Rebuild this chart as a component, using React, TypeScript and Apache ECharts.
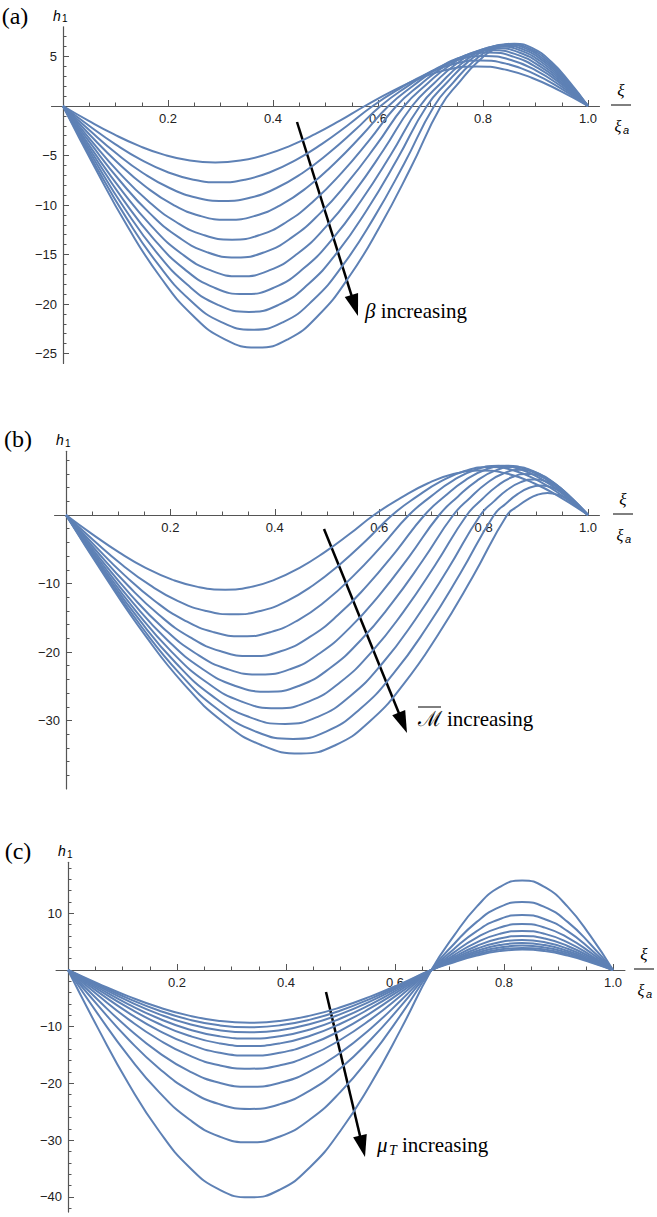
import React, { useEffect, useRef } from "react";
import * as echarts from "echarts";

const LINE = "#5E81B5";

const xTickValues = [0.2, 0.4, 0.6, 0.8, 1.0];
const yTicksA = [-25, -20, -15, -10, -5, 5];
const yTicksB = [-30, -20, -10];
const yTicksC = [-40, -30, -20, -10, 10];

// Panel (a): beta family, [xi, h1] pairs
const betaCurves = [
  [[0,0],[0.0483,-1.48],[0.0967,-2.85],[0.145,-4.03],[0.1933,-4.94],[0.2417,-5.51],[0.29,-5.7],[0.3375,-5.51],[0.385,-4.94],[0.4325,-4.03],[0.48,-2.85],[0.5275,-1.48],[0.575,0],[0.6281,1.53],[0.6813,2.83],[0.7344,3.7],[0.7875,4.0],[0.8406,3.7],[0.8938,2.83],[0.9469,1.53],[1,0]],
  [[0,0],[0.0497,-1.99],[0.0993,-3.85],[0.149,-5.45],[0.1987,-6.67],[0.2483,-7.44],[0.298,-7.7],[0.3467,-7.44],[0.3953,-6.67],[0.444,-5.45],[0.4927,-3.85],[0.5413,-1.99],[0.59,0],[0.6413,1.76],[0.6925,3.25],[0.7438,4.25],[0.795,4.6],[0.8463,4.25],[0.8975,3.25],[0.9488,1.76],[1,0]],
  [[0,0],[0.051,-2.48],[0.102,-4.8],[0.153,-6.79],[0.204,-8.31],[0.255,-9.27],[0.306,-9.6],[0.3558,-9.27],[0.4057,-8.31],[0.4555,-6.79],[0.5053,-4.8],[0.5552,-2.48],[0.605,0],[0.6544,1.93],[0.7038,3.57],[0.7531,4.67],[0.8025,5.05],[0.8519,4.67],[0.9013,3.57],[0.9506,1.93],[1,0]],
  [[0,0],[0.0523,-2.98],[0.1047,-5.75],[0.157,-8.13],[0.2093,-9.96],[0.2617,-11.11],[0.314,-11.5],[0.365,-11.11],[0.416,-9.96],[0.467,-8.13],[0.518,-5.75],[0.569,-2.98],[0.62,0],[0.6675,2.07],[0.715,3.82],[0.7625,4.99],[0.81,5.4],[0.8575,4.99],[0.905,3.82],[0.9525,2.07],[1,0]],
  [[0,0],[0.0537,-3.49],[0.1073,-6.75],[0.161,-9.55],[0.2147,-11.69],[0.2683,-13.04],[0.322,-13.5],[0.3742,-13.04],[0.4263,-11.69],[0.4785,-9.55],[0.5307,-6.75],[0.5828,-3.49],[0.635,0],[0.6806,2.16],[0.7263,4.0],[0.7719,5.22],[0.8175,5.65],[0.8631,5.22],[0.9088,4.0],[0.9544,2.16],[1,0]],
  [[0,0],[0.055,-3.96],[0.11,-7.65],[0.165,-10.82],[0.22,-13.25],[0.275,-14.78],[0.33,-15.3],[0.3833,-14.78],[0.4367,-13.25],[0.49,-10.82],[0.5433,-7.65],[0.5967,-3.96],[0.65,0],[0.6938,2.24],[0.7375,4.14],[0.7813,5.41],[0.825,5.85],[0.8688,5.41],[0.9125,4.14],[0.9563,2.24],[1,0]],
  [[0,0],[0.0563,-4.45],[0.1127,-8.6],[0.169,-12.16],[0.2253,-14.9],[0.2817,-16.61],[0.338,-17.2],[0.3925,-16.61],[0.447,-14.9],[0.5015,-12.16],[0.556,-8.6],[0.6105,-4.45],[0.665,0],[0.7069,2.3],[0.7488,4.24],[0.7906,5.54],[0.8325,6.0],[0.8744,5.54],[0.9163,4.24],[0.9581,2.3],[1,0]],
  [[0,0],[0.0577,-4.92],[0.1153,-9.5],[0.173,-13.44],[0.2307,-16.45],[0.2883,-18.35],[0.346,-19.0],[0.4017,-18.35],[0.4573,-16.45],[0.513,-13.44],[0.5687,-9.5],[0.6243,-4.92],[0.68,0],[0.72,2.33],[0.76,4.31],[0.8,5.64],[0.84,6.1],[0.88,5.64],[0.92,4.31],[0.96,2.33],[1,0]],
  [[0,0],[0.059,-5.38],[0.118,-10.4],[0.177,-14.71],[0.236,-18.01],[0.295,-20.09],[0.354,-20.8],[0.4105,-20.09],[0.467,-18.01],[0.5235,-14.71],[0.58,-10.4],[0.6365,-5.38],[0.693,0],[0.7314,2.37],[0.7698,4.38],[0.8081,5.73],[0.8465,6.2],[0.8849,5.73],[0.9233,4.38],[0.9616,2.37],[1,0]],
  [[0,0],[0.0603,-5.85],[0.1207,-11.3],[0.181,-15.98],[0.2413,-19.57],[0.3017,-21.83],[0.362,-22.6],[0.4195,-21.83],[0.477,-19.57],[0.5345,-15.98],[0.592,-11.3],[0.6495,-5.85],[0.707,0],[0.7436,2.39],[0.7803,4.42],[0.8169,5.77],[0.8535,6.25],[0.8901,5.77],[0.9268,4.42],[0.9634,2.39],[1,0]],
  [[0,0],[0.0617,-6.32],[0.1233,-12.2],[0.185,-17.25],[0.2467,-21.13],[0.3083,-23.57],[0.37,-24.4],[0.4283,-23.57],[0.4867,-21.13],[0.545,-17.25],[0.6033,-12.2],[0.6617,-6.32],[0.72,0],[0.755,2.41],[0.79,4.46],[0.825,5.82],[0.86,6.3],[0.895,5.82],[0.93,4.46],[0.965,2.41],[1,0]],
];

// Panel (b): M-bar family, [xi, h1] pairs
const machCurves = [
  [[0,0],[0.0508,-2.82],[0.1017,-5.45],[0.1525,-7.71],[0.2033,-9.44],[0.2542,-10.53],[0.305,-10.9],[0.3525,-10.53],[0.4,-9.44],[0.4475,-7.71],[0.495,-5.45],[0.5425,-2.82],[0.59,0],[0.6413,2.49],[0.6925,4.6],[0.7438,6.01],[0.795,6.5],[0.8463,6.01],[0.8975,4.6],[0.9488,2.49],[1,0]],
  [[0,0],[0.0537,-3.75],[0.1073,-7.25],[0.161,-10.25],[0.2147,-12.56],[0.2683,-14.01],[0.322,-14.5],[0.3725,-14.01],[0.423,-12.56],[0.4735,-10.25],[0.524,-7.25],[0.5745,-3.75],[0.625,0],[0.6719,2.68],[0.7188,4.95],[0.7656,6.47],[0.8125,7.0],[0.8594,6.47],[0.9063,4.95],[0.9531,2.68],[1,0]],
  [[0,0],[0.0565,-4.58],[0.113,-8.85],[0.1695,-12.52],[0.226,-15.33],[0.2825,-17.1],[0.339,-17.7],[0.392,-17.1],[0.445,-15.33],[0.498,-12.52],[0.551,-8.85],[0.604,-4.58],[0.657,0],[0.6999,2.76],[0.7428,5.09],[0.7856,6.65],[0.8285,7.2],[0.8714,6.65],[0.9143,5.09],[0.9571,2.76],[1,0]],
  [[0,0],[0.0593,-5.33],[0.1187,-10.3],[0.178,-14.57],[0.2373,-17.84],[0.2967,-19.9],[0.356,-20.6],[0.4112,-19.9],[0.4663,-17.84],[0.5215,-14.57],[0.5767,-10.3],[0.6318,-5.33],[0.687,0],[0.7261,2.76],[0.7653,5.09],[0.8044,6.65],[0.8435,7.2],[0.8826,6.65],[0.9218,5.09],[0.9609,2.76],[1,0]],
  [[0,0],[0.062,-6.03],[0.124,-11.65],[0.186,-16.48],[0.248,-20.18],[0.31,-22.51],[0.372,-23.3],[0.4292,-22.51],[0.4863,-20.18],[0.5435,-16.48],[0.6007,-11.65],[0.6578,-6.03],[0.715,0],[0.7506,2.68],[0.7863,4.95],[0.8219,6.47],[0.8575,7.0],[0.8931,6.47],[0.9288,4.95],[0.9644,2.68],[1,0]],
  [[0,0],[0.0647,-6.68],[0.1293,-12.9],[0.194,-18.24],[0.2587,-22.34],[0.3233,-24.92],[0.388,-25.8],[0.447,-24.92],[0.506,-22.34],[0.565,-18.24],[0.624,-12.9],[0.683,-6.68],[0.742,0],[0.7743,2.53],[0.8065,4.67],[0.8388,6.1],[0.871,6.6],[0.9033,6.1],[0.9355,4.67],[0.9678,2.53],[1,0]],
  [[0,0],[0.0673,-7.3],[0.1347,-14.1],[0.202,-19.94],[0.2693,-24.42],[0.3367,-27.24],[0.404,-28.2],[0.4647,-27.24],[0.5253,-24.42],[0.586,-19.94],[0.6467,-14.1],[0.7073,-7.3],[0.768,0],[0.797,2.3],[0.826,4.24],[0.855,5.54],[0.884,6.0],[0.913,5.54],[0.942,4.24],[0.971,2.3],[1,0]],
  [[0,0],[0.07,-7.89],[0.14,-15.25],[0.21,-21.57],[0.28,-26.41],[0.35,-29.46],[0.42,-30.5],[0.4823,-29.46],[0.5447,-26.41],[0.607,-21.57],[0.6693,-15.25],[0.7317,-7.89],[0.794,0],[0.8198,1.99],[0.8455,3.68],[0.8713,4.8],[0.897,5.2],[0.9228,4.8],[0.9485,3.68],[0.9743,1.99],[1,0]],
  [[0,0],[0.0725,-8.46],[0.145,-16.35],[0.2175,-23.12],[0.29,-28.32],[0.3625,-31.58],[0.435,-32.7],[0.4992,-31.58],[0.5633,-28.32],[0.6275,-23.12],[0.6917,-16.35],[0.7558,-8.46],[0.82,0],[0.8425,1.65],[0.865,3.04],[0.8875,3.97],[0.91,4.3],[0.9325,3.97],[0.955,3.04],[0.9775,1.65],[1,0]],
  [[0,0],[0.075,-9.01],[0.15,-17.4],[0.225,-24.61],[0.3,-30.14],[0.375,-33.61],[0.45,-34.8],[0.5158,-33.61],[0.5817,-30.14],[0.6475,-24.61],[0.7133,-17.4],[0.7792,-9.01],[0.845,0],[0.8644,1.23],[0.8838,2.26],[0.9031,2.96],[0.9225,3.2],[0.9419,2.96],[0.9613,2.26],[0.9806,1.23],[1,0]],
];

// Panel (c): mu_T family, shared xi grid
const xiC = [0, 0.0556, 0.1111, 0.1667, 0.2222, 0.2778, 0.3333, 0.3889, 0.4444, 0.5, 0.5556, 0.6111, 0.6667, 0.7083, 0.75, 0.7917, 0.8333, 0.875, 0.9167, 0.9583, 1];
const muCurves = [
  [0,-10.38,-20.05,-28.35,-34.73,-38.73,-40.1,-38.73,-34.73,-28.35,-20.05,-10.38,0,6.05,11.17,14.6,15.8,14.6,11.17,6.05,0],
  [0,-7.87,-15.2,-21.5,-26.33,-29.36,-30.4,-29.36,-26.33,-21.5,-15.2,-7.87,0,4.59,8.49,11.09,12.0,11.09,8.49,4.59,0],
  [0,-6.34,-12.25,-17.32,-21.22,-23.66,-24.5,-23.66,-21.22,-17.32,-12.25,-6.34,0,3.71,6.86,8.96,9.7,8.96,6.86,3.71,0],
  [0,-5.33,-10.3,-14.57,-17.84,-19.9,-20.6,-19.9,-17.84,-14.57,-10.3,-5.33,0,3.1,5.73,7.48,8.1,7.48,5.73,3.1,0],
  [0,-4.5,-8.7,-12.3,-15.07,-16.81,-17.4,-16.81,-15.07,-12.3,-8.7,-4.5,0,2.64,4.88,6.37,6.9,6.37,4.88,2.64,0],
  [0,-3.91,-7.55,-10.68,-13.08,-14.59,-15.1,-14.59,-13.08,-10.68,-7.55,-3.91,0,2.3,4.24,5.54,6.0,5.54,4.24,2.3,0],
  [0,-3.47,-6.7,-9.48,-11.6,-12.94,-13.4,-12.94,-11.6,-9.48,-6.7,-3.47,0,2.03,3.75,4.9,5.3,4.9,3.75,2.03,0],
  [0,-3.13,-6.05,-8.56,-10.48,-11.69,-12.1,-11.69,-10.48,-8.56,-6.05,-3.13,0,1.82,3.36,4.39,4.75,4.39,3.36,1.82,0],
  [0,-2.85,-5.5,-7.78,-9.53,-10.62,-11.0,-10.62,-9.53,-7.78,-5.5,-2.85,0,1.65,3.04,3.97,4.3,3.97,3.04,1.65,0],
  [0,-2.61,-5.05,-7.14,-8.75,-9.76,-10.1,-9.76,-8.75,-7.14,-5.05,-2.61,0,1.49,2.76,3.6,3.9,3.6,2.76,1.49,0],
  [0,-2.41,-4.65,-6.58,-8.05,-8.98,-9.3,-8.98,-8.05,-6.58,-4.65,-2.41,0,1.38,2.55,3.33,3.6,3.33,2.55,1.38,0],
];

const AX = "#555";
const LBL = "#222";
const SANS = '"Liberation Sans", Arial, sans-serif';
const SERIF = '"Liberation Serif", "Times New Roman", serif';

// panel geometry (pixels): zero position and scale of each panel
const XMIN = -0.022;
const XMAX = 1.022;
const panels = [
  { x0: 63, sx: 525, y0: 106, sy: 9.9, ymin: -26, ymax: 8 },
  { x0: 66, sx: 522, y0: 515, sy: 6.85, ymin: -40, ymax: 9.3 },
  { x0: 68, sx: 545, y0: 970, sy: 5.67, ymin: -42.7, ymax: 19 },
];

function gridOf(p: any) {
  const left = p.x0 + XMIN * p.sx;
  const width = (XMAX - XMIN) * p.sx;
  const top = p.y0 - p.ymax * p.sy;
  const height = (p.ymax - p.ymin) * p.sy;
  return { left, top, width, height };
}

function minusFmt(v: number) {
  return v < 0 ? "\u2212" + Math.abs(v) : String(v);
}

function makeX(gridIndex: number) {
  const p = panels[gridIndex];
  const g = gridOf(p);
  const offset = -(g.top + g.height - p.y0);
  return {
    type: "value",
    gridIndex,
    min: XMIN,
    max: XMAX,
    splitNumber: 5,
    position: "bottom",
    offset,
    axisLine: { show: true, onZero: false, lineStyle: { color: AX, width: 1 } },
    axisTick: { show: true, inside: true, length: 6, customValues: xTickValues, lineStyle: { color: AX } },
    minorTick: { show: true, splitNumber: 4, length: 3.5, lineStyle: { color: AX } },
    axisLabel: {
      show: true,
      customValues: xTickValues,
      formatter: (v: number) => v.toFixed(1),
      fontFamily: SANS,
      fontSize: 13,
      color: LBL,
      margin: 6,
    },
    splitLine: { show: false },
  };
}

function makeY(gridIndex: number, ticks: number[], minorSplit: number) {
  const p = panels[gridIndex];
  const g = gridOf(p);
  const offset = -(p.x0 - g.left);
  return {
    type: "value",
    gridIndex,
    min: p.ymin,
    max: p.ymax,
    splitNumber: 5,
    position: "left",
    offset,
    axisLine: { show: true, onZero: false, lineStyle: { color: AX, width: 1.2 } },
    axisTick: { show: true, inside: true, length: 6, customValues: ticks, lineStyle: { color: AX } },
    minorTick: { show: true, splitNumber: minorSplit, length: 3.5, lineStyle: { color: AX } },
    axisLabel: {
      show: true,
      customValues: ticks,
      formatter: minusFmt,
      fontFamily: SANS,
      fontSize: 13,
      color: LBL,
      margin: 6,
    },
    splitLine: { show: false },
  };
}

function arrow(x1: number, y1: number, x2: number, y2: number) {
  const dx = x2 - x1;
  const dy = y2 - y1;
  const len = Math.sqrt(dx * dx + dy * dy);
  const ux = dx / len;
  const uy = dy / len;
  const nx = -uy;
  const ny = ux;
  const hl = 22;
  const hw = 7;
  const bx = x2 - hl * ux;
  const by = y2 - hl * uy;
  return [
    { type: "line", shape: { x1, y1, x2: bx + ux * 2, y2: by + uy * 2 }, style: { stroke: "#000", lineWidth: 2.5 } },
    {
      type: "polygon",
      shape: { points: [[x2, y2], [bx + nx * hw, by + ny * hw], [bx - nx * hw, by - ny * hw]] },
      style: { fill: "#000" },
    },
  ];
}

function txt(x: number, y: number, text: string, font: string, align = "center", rich?: any) {
  const style: any = {
    text,
    font,
    fill: "#000",
    textAlign: align,
    align,
    textVerticalAlign: "middle",
    verticalAlign: "middle",
  };
  if (rich) style.rich = rich;
  return { type: "text", x, y, style };
}

function fraction(cx: number, axisY: number) {
  return [
    txt(cx, axisY - 16, "\u03BE", "italic 17px " + SERIF),
    { type: "line", shape: { x1: cx - 10, y1: axisY - 1, x2: cx + 10, y2: axisY - 1 }, style: { stroke: "#000", lineWidth: 1 } },
    txt(cx - 3, axisY + 20, "\u03BE", "italic 16px " + SERIF),
    txt(cx + 2, axisY + 24, "a", "italic 11px " + SANS, "left"),
  ];
}

function h1Label(ax: number, topY: number) {
  return [
    txt(ax - 6, topY - 11, "h", "italic 14px " + SANS),
    txt(ax - 1, topY - 8, "1", "10px " + SANS, "left"),
  ];
}

const App: React.FC = () => {
  const ref = useRef<HTMLDivElement>(null);

  useEffect(() => {
    if (!ref.current) return;
    const chart = echarts.init(ref.current, undefined, { renderer: "svg" });

    const mk = (data: any[], i: number) => ({
      type: "line",
      xAxisIndex: i,
      yAxisIndex: i,
      data,
      showSymbol: false,
      smooth: 0.5,
      silent: true,
      lineStyle: { color: LINE, width: 2 },
      z: 3,
    });

    const series: any[] = [];
    betaCurves.forEach((c) => series.push(mk(c, 0)));
    machCurves.forEach((c) => series.push(mk(c, 1)));
    muCurves.forEach((h) => series.push(mk(xiC.map((x, i) => [x, h[i]]), 2)));

    const tops = panels.map((p) => p.y0 - p.ymax * p.sy);

    const graphic: any[] = [
      txt(15, 16, "(a)", "24px " + SERIF),
      ...h1Label(panels[0].x0, tops[0]),
      ...fraction(621, panels[0].y0),
      ...arrow(297, 122, 358, 316),
      txt(365, 311, "{i|\u03B2} increasing", "21px " + SERIF, "left", {
        i: { fontStyle: "italic", fontSize: 21, fontFamily: SERIF },
      }),

      txt(18, tops[1] - 12, "(b)", "24px " + SERIF),
      ...h1Label(panels[1].x0, tops[1]),
      ...fraction(623, panels[1].y0),
      ...arrow(324, 529, 407, 733),
      txt(418, 719, "\u2133", "21px " + SERIF, "left"),
      { type: "line", shape: { x1: 418, y1: 707, x2: 441, y2: 707 }, style: { stroke: "#000", lineWidth: 1 } },
      txt(447, 719, "increasing", "21px " + SERIF, "left"),

      txt(18, tops[2] - 11, "(c)", "24px " + SERIF),
      ...h1Label(panels[2].x0, tops[2]),
      ...fraction(644, panels[2].y0),
      ...arrow(326, 992, 365, 1157),
      txt(377, 1145, "\u03BC", "italic 21px " + SERIF, "left"),
      txt(389, 1150, "T", "italic 14px " + SERIF, "left"),
      txt(402, 1145, "increasing", "21px " + SERIF, "left"),
    ];

    chart.setOption({
      animation: false,
      backgroundColor: "#fff",
      grid: panels.map((p) => gridOf(p)),
      xAxis: [makeX(0), makeX(1), makeX(2)],
      yAxis: [makeY(0, yTicksA, 5), makeY(1, yTicksB, 5), makeY(2, yTicksC, 5)],
      series,
      graphic,
    });

    return () => chart.dispose();
  }, []);

  return (
    <div
      ref={ref}
      style={{ position: "absolute", left: 0, top: 0, width: 657, height: 1217, background: "#fff" }}
    />
  );
};

export default App;
